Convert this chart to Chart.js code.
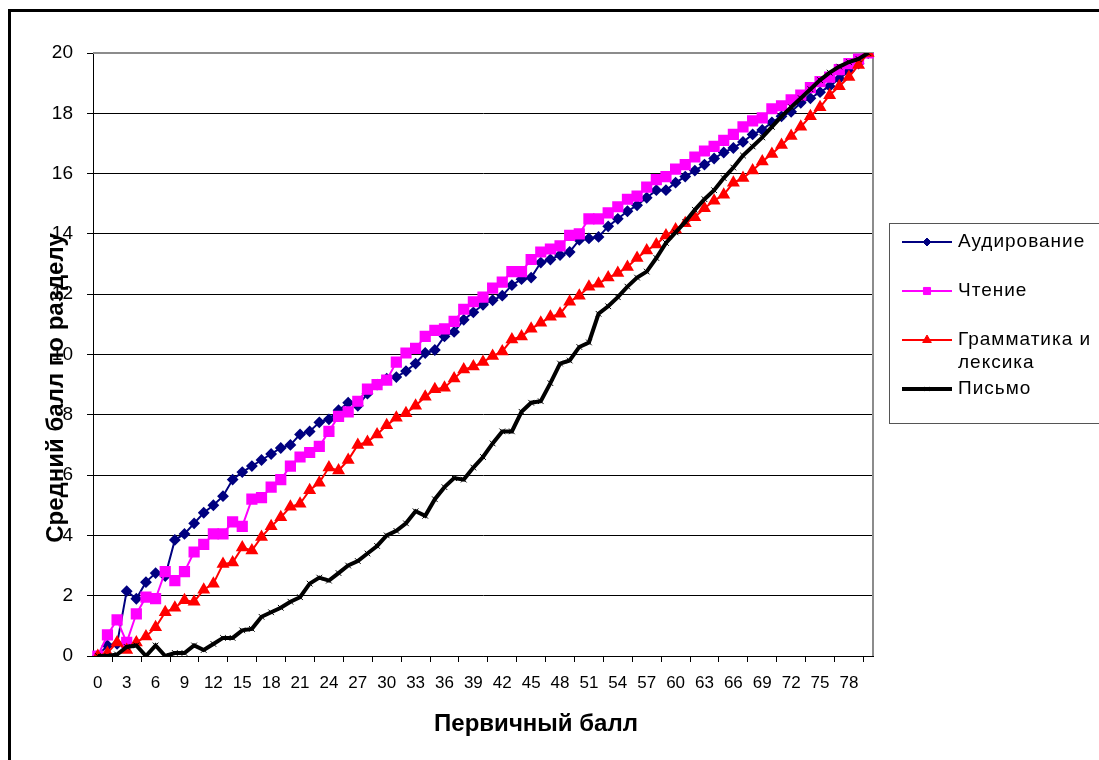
<!DOCTYPE html>
<html>
<head>
<meta charset="utf-8">
<script src="https://cdn.jsdelivr.net/npm/chart.js@4.4.1/dist/chart.umd.min.js"></script>
<style>
html, body { margin: 0; padding: 0; background: #fff; }
#wrap { position: relative; width: 1099px; height: 760px; overflow: hidden; }
</style>
</head>
<body>
<div id="wrap"><canvas id="chart" width="1099" height="760"></canvas></div>
<script>
// Первичный балл 0..80
const categories = [
    0, 1, 2, 3, 4, 5, 6, 7, 8, 9, 10, 11, 12, 13, 14, 15, 16, 17, 18, 19,
    20, 21, 22, 23, 24, 25, 26, 27, 28, 29, 30, 31, 32, 33, 34, 35, 36, 37, 38, 39,
    40, 41, 42, 43, 44, 45, 46, 47, 48, 49, 50, 51, 52, 53, 54, 55, 56, 57, 58, 59,
    60, 61, 62, 63, 64, 65, 66, 67, 68, 69, 70, 71, 72, 73, 74, 75, 76, 77, 78, 79, 80
];
const shownXLabels = [0, 3, 6, 9, 12, 15, 18, 21, 24, 27, 30, 33, 36, 39, 42, 45, 48, 51, 54, 57, 60, 63, 66, 69, 72, 75, 78];

const audirovanie = [
    0, 0.35, 0.4, 2.15, 1.9, 2.45, 2.75, 2.65, 3.85, 4.05,
    4.4, 4.75, 5.0, 5.3, 5.85, 6.1, 6.3, 6.5, 6.7, 6.9,
    7.0, 7.35, 7.45, 7.75, 7.85, 8.15, 8.4, 8.3, 8.7, 9.0,
    9.2, 9.25, 9.45, 9.7, 10.05, 10.15, 10.6, 10.75, 11.15, 11.4,
    11.65, 11.8, 11.95, 12.3, 12.5, 12.55, 13.05, 13.15, 13.3, 13.4,
    13.8, 13.85, 13.9, 14.25, 14.5, 14.75, 14.95, 15.2, 15.45, 15.45,
    15.7, 15.9, 16.1, 16.3, 16.5, 16.7, 16.85, 17.05, 17.3, 17.45,
    17.7, 17.9, 18.05, 18.35, 18.5, 18.7, 18.9, 19.15, 19.4, 19.65, 20
];
const chtenie = [
    0, 0.7, 1.2, 0.45, 1.4, 1.95, 1.9, 2.8, 2.5, 2.8,
    3.45, 3.7, 4.05, 4.05, 4.45, 4.3, 5.2, 5.25, 5.6, 5.85,
    6.3, 6.6, 6.75, 6.95, 7.45, 7.95, 8.1, 8.45, 8.85, 9.0,
    9.15, 9.75, 10.05, 10.2, 10.6, 10.8, 10.85, 11.1, 11.5, 11.75,
    11.9, 12.2, 12.4, 12.75, 12.75, 13.15, 13.4, 13.5, 13.6, 13.95,
    14.0, 14.5, 14.5, 14.7, 14.9, 15.15, 15.25, 15.55, 15.8, 15.9,
    16.15, 16.3, 16.55, 16.75, 16.9, 17.1, 17.3, 17.55, 17.75, 17.85,
    18.15, 18.25, 18.45, 18.6, 18.85, 19.05, 19.2, 19.45, 19.65, 19.8, 20
];
const grammatika = [
    0, 0.1, 0.45, 0.2, 0.45, 0.65, 0.95, 1.45, 1.6, 1.85,
    1.8, 2.2, 2.4, 3.05, 3.1, 3.6, 3.5, 3.95, 4.3, 4.6,
    4.95, 5.05, 5.5, 5.75, 6.25, 6.15, 6.5, 7.0, 7.1, 7.35,
    7.65, 7.9, 8.05, 8.3, 8.6, 8.85, 8.9, 9.2, 9.5, 9.6,
    9.75, 9.95, 10.1, 10.5, 10.6, 10.85, 11.05, 11.25, 11.35, 11.75,
    11.95, 12.25, 12.35, 12.55, 12.7, 12.9, 13.2, 13.45, 13.65, 13.95,
    14.15, 14.35, 14.55, 14.85, 15.1, 15.3, 15.7, 15.85, 16.1, 16.4,
    16.65, 16.95, 17.25, 17.55, 17.9, 18.2, 18.6, 18.9, 19.2, 19.6, 20
];
const pismo = [
    0, 0, 0.05, 0.3, 0.35, 0, 0.35, 0, 0.1, 0.1,
    0.35, 0.2, 0.4, 0.6, 0.6, 0.85, 0.9, 1.3, 1.45, 1.6,
    1.8, 1.95, 2.4, 2.6, 2.5, 2.75, 3.0, 3.15, 3.4, 3.65,
    4.0, 4.15, 4.4, 4.8, 4.65, 5.2, 5.6, 5.9, 5.85, 6.25,
    6.6, 7.05, 7.45, 7.45, 8.1, 8.4, 8.45, 9.05, 9.7, 9.8,
    10.25, 10.4, 11.35, 11.6, 11.9, 12.25, 12.55, 12.75, 13.2, 13.7,
    14.05, 14.4, 14.8, 15.15, 15.45, 15.85, 16.2, 16.6, 16.9, 17.2,
    17.55, 17.9, 18.2, 18.5, 18.8, 19.1, 19.35, 19.55, 19.7, 19.8, 20
];

const FONT = "'Liberation Sans', Arial, sans-serif";

// рамка, подписи осей и легенда
const decorPlugin = {
    id: 'decor',
    beforeDraw(chart) {
        const ctx = chart.ctx;
        ctx.save();
        ctx.strokeStyle = '#000';
        ctx.lineWidth = 3;
        ctx.strokeRect(9.5, 10.5, 1200, 900);
        ctx.restore();
    },
    beforeDatasetsDraw(chart) {
        const ctx = chart.ctx;
        const a = chart.chartArea;
        ctx.save();
        ctx.strokeStyle = '#8c8c8c';
        ctx.lineWidth = 2;
        ctx.beginPath();
        ctx.moveTo(a.left, a.top);
        ctx.lineTo(a.right, a.top);
        ctx.lineTo(a.right, a.bottom);
        ctx.stroke();
        ctx.restore();
    },
    afterDraw(chart) {
        const ctx = chart.ctx;
        ctx.save();
        ctx.fillStyle = '#000';
        ctx.font = 'bold 24px ' + FONT;
        ctx.textAlign = 'center';
        ctx.textBaseline = 'middle';
        ctx.fillText('Первичный балл', 536, 724);
        ctx.translate(56, 388);
        ctx.rotate(-Math.PI / 2);
        ctx.fillText('Средний балл по разделу', 0, 0);
        ctx.restore();

        // легенда
        ctx.save();
        ctx.strokeStyle = '#555';
        ctx.lineWidth = 1;
        ctx.strokeRect(889.5, 223.5, 240, 200);
        ctx.font = '19px ' + FONT;
        ctx.letterSpacing = '1px';
        ctx.textAlign = 'left';
        ctx.textBaseline = 'middle';
        const legendRadius = [4, 5, 5, 3];
        chart.data.datasets.forEach((ds, i) => {
            const y = 242 + i * 49;
            ctx.strokeStyle = ds.borderColor;
            ctx.lineWidth = ds.borderWidth;
            ctx.beginPath();
            ctx.moveTo(902, y);
            ctx.lineTo(952, y);
            ctx.stroke();
            ctx.fillStyle = ds.pointBackgroundColor;
            ctx.strokeStyle = ds.pointBorderColor;
            ctx.lineWidth = 1;
            Chart.helpers.drawPoint(ctx, {
                pointStyle: ds.pointStyle, radius: legendRadius[i], borderWidth: 1, rotation: 0
            }, 927, y);
            ctx.fillStyle = '#000';
            const words = ds.label.split(' ');
            let line = '';
            let ly = y;
            words.forEach(w => {
                const test = line ? line + ' ' + w : w;
                if (line && ctx.measureText(test).width > 135) {
                    ctx.fillText(line, 958, ly);
                    line = w;
                    ly += 23;
                } else {
                    line = test;
                }
            });
            ctx.fillText(line, 958, ly);
        });
        ctx.restore();
    }
};

const ctx = document.getElementById('chart').getContext('2d');
new Chart(ctx, {
    type: 'line',
    data: {
        labels: categories,
        datasets: [{
            label: 'Аудирование',
            data: audirovanie,
            borderColor: '#000080',
            backgroundColor: '#000080',
            pointBackgroundColor: '#000080',
            pointBorderColor: '#000080',
            borderWidth: 2,
            pointStyle: 'rectRot',
            pointRadius: 4.5,
            order: 4
        }, {
            label: 'Чтение',
            data: chtenie,
            borderColor: '#ff00ff',
            backgroundColor: '#ff00ff',
            pointBackgroundColor: '#ff00ff',
            pointBorderColor: '#ff00ff',
            borderWidth: 2,
            pointStyle: 'rect',
            pointRadius: 6.5,
            order: 3
        }, {
            label: 'Грамматика и лексика',
            data: grammatika,
            borderColor: '#ff0000',
            backgroundColor: '#ff0000',
            pointBackgroundColor: '#ff0000',
            pointBorderColor: '#ff0000',
            borderWidth: 2,
            pointStyle: 'triangle',
            pointRadius: 5.5,
            order: 2
        }, {
            label: 'Письмо',
            data: pismo,
            borderColor: '#000000',
            backgroundColor: '#000000',
            pointBackgroundColor: '#000000',
            pointBorderColor: '#000000',
            borderWidth: 4,
            pointStyle: 'crossRot',
            pointRadius: 4,
            pointBorderWidth: 1,
            order: 1
        }]
    },
    options: {
        responsive: false,
        animation: false,
        layout: {
            padding: { left: 0, top: 53, right: 226, bottom: 0 }
        },
        elements: {
            line: { tension: 0 }
        },
        scales: {
            x: {
                offset: true,
                afterFit(scale) { scale.height = 104; },
                grid: {
                    offset: true,
                    drawOnChartArea: false,
                    color: '#000',
                    tickLength: 6
                },
                border: { color: '#000', width: 1 },
                ticks: {
                    autoSkip: false,
                    maxRotation: 0,
                    padding: 11,
                    color: '#000',
                    font: { family: FONT, size: 17 },
                    callback(value, index) {
                        const c = categories[index];
                        return shownXLabels.includes(c) ? String(c) : null;
                    }
                }
            },
            y: {
                min: 0,
                max: 20,
                afterFit(scale) { scale.width = 93; },
                grid: {
                    color: ctx => ctx.tick && ctx.tick.value === 20 ? 'rgba(0,0,0,0)' : '#000',
                    tickColor: '#000',
                    lineWidth: 1,
                    tickLength: 6
                },
                border: { color: '#000', width: 1 },
                ticks: {
                    stepSize: 2,
                    padding: 14,
                    color: '#000',
                    font: { family: FONT, size: 19 }
                }
            }
        },
        plugins: {
            legend: { display: false },
            tooltip: { enabled: false }
        }
    },
    plugins: [decorPlugin]
});
</script>
</body>
</html>
